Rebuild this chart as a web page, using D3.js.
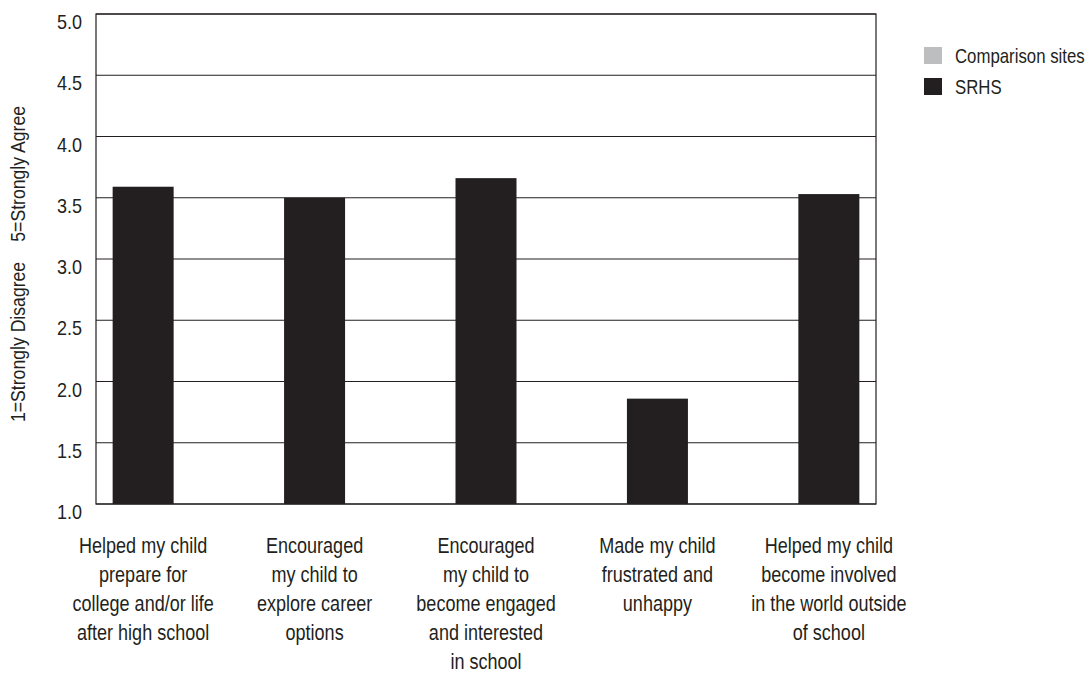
<!DOCTYPE html>
<html>
<head>
<meta charset="utf-8">
<script src="https://cdn.jsdelivr.net/npm/d3@7"></script>
<style>
  html, body { margin: 0; padding: 0; background: #fff; }
  svg text { font-family: "Liberation Sans", Arial, sans-serif; fill: #231f20; }
</style>
</head>
<body>
<svg id="chart" width="1085" height="673"></svg>
<script>
// ---- data ----
const categories = [
  ["Helped my child", "prepare for", "college and/or life", "after high school"],
  ["Encouraged", "my child to", "explore career", "options"],
  ["Encouraged", "my child to", "become engaged", "and interested", "in school"],
  ["Made my child", "frustrated and", "unhappy"],
  ["Helped my child", "become involved", "in the world outside", "of school"]
];
const srhsValues = [3.59, 3.50, 3.66, 1.86, 3.53];
const comparisonValues = [null, null, null, null, null]; // no comparison bars shown
const seriesNames = ["Comparison sites", "SRHS"];
const seriesColors = ["#bcbec0", "#231f20"];
const yTicks = [1.0, 1.5, 2.0, 2.5, 3.0, 3.5, 4.0, 4.5, 5.0];
const yTitleParts = ["1=Strongly Disagree", "5=Strongly Agree"];

// ---- layout ----
const margin = { left: 96, top: 14, right: 209, bottom: 169 };
const W = 1085, H = 673;
const plotW = W - margin.left - margin.right; // 780
const plotH = H - margin.top - margin.bottom; // 490
const barW = 61;
const narrow = 0.84; // horizontal condensing of text

const svg = d3.select("#chart");
const g = svg.append("g").attr("transform", `translate(${margin.left},${margin.top})`);

const x = d3.scalePoint().domain(d3.range(categories.length)).range([0, plotW]).padding(0.275);
const y = d3.scaleLinear().domain([1, 5]).range([plotH, 0]);

// gridlines
g.append("g").selectAll("line").data(yTicks).join("line")
  .attr("x1", 0).attr("x2", plotW)
  .attr("y1", d => y(d)).attr("y2", d => y(d))
  .attr("stroke", "#231f20").attr("stroke-width", 1.2);

// bars
g.append("g").selectAll("rect").data(srhsValues).join("rect")
  .attr("x", (d, i) => x(i) - barW / 2)
  .attr("y", d => y(d))
  .attr("width", barW)
  .attr("height", d => y(1) - y(d))
  .attr("fill", seriesColors[1]);

// frame
g.append("rect").attr("x", 0).attr("y", 0).attr("width", plotW).attr("height", plotH)
  .attr("fill", "none").attr("stroke", "#231f20").attr("stroke-width", 1.2);

// y tick labels
g.append("g").selectAll("text").data(yTicks).join("text")
  .attr("transform", d => `translate(-14,${y(d) + 15}) scale(0.9,1)`)
  .attr("text-anchor", "end")
  .style("font-size", "20px")
  .text(d => d3.format(".1f")(d));

// category labels
const lab = g.append("g").selectAll("text").data(categories).join("text")
  .attr("text-anchor", "middle")
  .attr("transform", (d, i) => `translate(${x(i)},${plotH + 49}) scale(${narrow - 0.02},1)`)
  .style("font-size", "22px");
lab.selectAll("tspan").data(d => d).join("tspan")
  .attr("x", 0).attr("dy", (d, i) => i === 0 ? 0 : 29)
  .text(d => d);

// y axis title
const yt = svg.append("text")
  .attr("transform", `translate(25,264) rotate(-90) scale(${narrow},1)`)
  .attr("text-anchor", "middle")
  .style("font-size", "21px");
yt.append("tspan").text(yTitleParts[0]);
yt.append("tspan").attr("dx", 24).text(yTitleParts[1]);

// legend
const leg = svg.append("g").attr("transform", `translate(924,47)`);
const li = leg.selectAll("g").data(seriesNames).join("g")
  .attr("transform", (d, i) => `translate(0,${i * 31})`);
li.append("rect").attr("width", 18).attr("height", 17).attr("fill", (d, i) => seriesColors[i]);
li.append("text").attr("transform", `translate(31,16) scale(${narrow},1)`)
  .style("font-size", "20px").text(d => d);
</script>
</body>
</html>
